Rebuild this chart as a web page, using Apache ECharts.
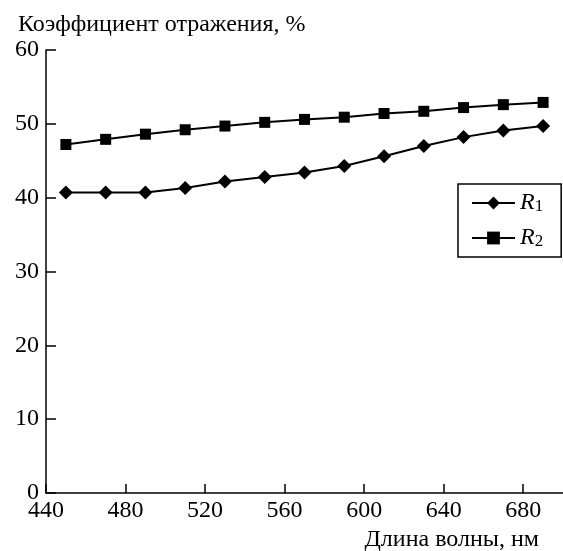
<!DOCTYPE html>
<html>
<head>
<meta charset="utf-8">
<script src="https://cdn.jsdelivr.net/npm/echarts@6/dist/echarts.min.js"></script>
<style>
html,body{margin:0;padding:0;background:#fff;}
#c{width:563px;height:551px;}
</style>
</head>
<body>
<div id="c"></div>
<script>
var wavelengths = [450, 470, 490, 510, 530, 550, 570, 590, 610, 630, 650, 670, 690];
var r1Values = [40.7, 40.7, 40.7, 41.3, 42.2, 42.8, 43.4, 44.3, 45.6, 47.0, 48.2, 49.1, 49.7];
var r2Values = [47.2, 47.9, 48.6, 49.2, 49.7, 50.2, 50.6, 50.9, 51.4, 51.7, 52.2, 52.6, 52.9];
var xTicks = [440, 480, 520, 560, 600, 640, 680];
var seriesNames = ['R1', 'R2'];
var yTitle = 'Коэффициент отражения, %';
var xTitle = 'Длина волны, нм';

function pairs(xs, ys) { return xs.map(function (x, i) { return [x, ys[i]]; }); }

var FONT = '"Liberation Serif", "DejaVu Serif", serif';
var chart = echarts.init(document.getElementById('c'), null, {renderer: 'canvas'});
chart.setOption({
  backgroundColor: '#fff',
  animation: false,
  textStyle: {fontFamily: FONT, color: '#000'},
  title: [
    {text: yTitle, left: 13, top: 8, textStyle: {fontFamily: FONT, fontSize: 24, fontWeight: 'normal', color: '#000'}},
    {text: xTitle, right: 19, top: 523, textStyle: {fontFamily: FONT, fontSize: 24, fontWeight: 'normal', color: '#000'}}
  ],
  grid: {left: 46, right: 0, top: 50, bottom: 58, containLabel: false},
  legend: {
    orient: 'vertical', left: 458, top: 184,
    padding: [7, 18, 7, 13],
    borderColor: '#000', borderWidth: 1.5,
    itemWidth: 43, itemHeight: 16, itemGap: 11,
    data: seriesNames,
    formatter: function (n) { return '{r|R}{s|' + n.slice(1) + '}'; },
    textStyle: {
      fontFamily: FONT, color: '#000',
      rich: {
        r: {fontFamily: FONT, fontSize: 24, fontStyle: 'italic', color: '#000', lineHeight: 24, verticalAlign: 'bottom'},
        s: {fontFamily: FONT, fontSize: 17, color: '#000', lineHeight: 14, verticalAlign: 'bottom'}
      }
    }
  },
  xAxis: {
    type: 'value', min: 440, max: 700, interval: 40,
    splitLine: {show: false},
    axisLine: {lineStyle: {color: '#000', width: 1.5}},
    axisTick: {inside: true, length: 9, customValues: xTicks, lineStyle: {color: '#000', width: 1.5}},
    axisLabel: {fontFamily: FONT, fontSize: 24, color: '#000', margin: 6, customValues: xTicks,
      formatter: function (v) { return v === 700 ? '' : String(v); }}
  },
  yAxis: {
    type: 'value', min: 0, max: 60, interval: 10,
    splitLine: {show: false},
    axisLine: {show: true, lineStyle: {color: '#000', width: 1.5}},
    axisTick: {show: true, inside: true, length: 10, lineStyle: {color: '#000', width: 1.5}},
    axisLabel: {fontFamily: FONT, fontSize: 24, color: '#000', margin: 7}
  },
  series: [
    {name: seriesNames[0], type: 'line', data: pairs(wavelengths, r1Values),
     symbol: 'diamond', symbolSize: [14, 14], showAllSymbol: true,
     lineStyle: {color: '#000', width: 2}, itemStyle: {color: '#000'}},
    {name: seriesNames[1], type: 'line', data: pairs(wavelengths, r2Values),
     symbol: 'rect', symbolSize: 11, showAllSymbol: true,
     lineStyle: {color: '#000', width: 2}, itemStyle: {color: '#000'}}
  ]
});
</script>
</body>
</html>
